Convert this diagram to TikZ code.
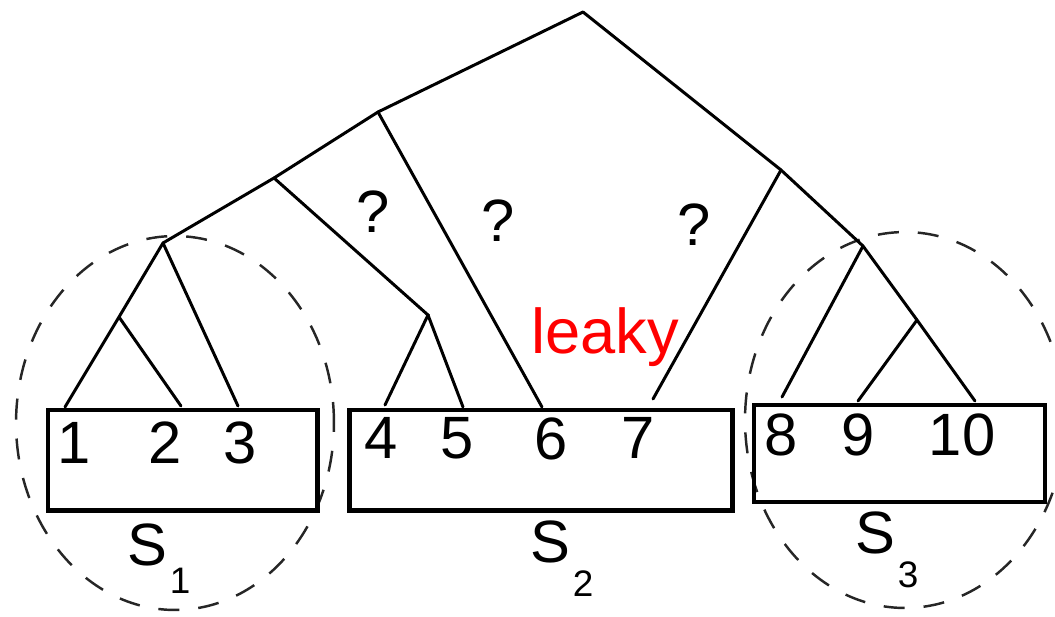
\documentclass[tikz,border=0pt]{standalone}
\usepackage{fontspec}
\setmainfont{Liberation Sans}
\tikzset{
  tree/.style={line width=1.7pt, black, line cap=round},
  setbox/.style={draw, line width=2.6pt, inner sep=0pt},
  setcirc/.style={draw=black!85, line width=1.4pt, dash pattern=on 0.42cm off 0.38cm},
  digit/.style={font=\fontsize{34}{40}\selectfont, inner sep=0pt},
  qmark/.style={font=\fontsize{34}{40}\selectfont, inner sep=0pt},
  slab/.style={font=\fontsize{34}{40}\selectfont, inner sep=0pt, anchor=base west},
  leak/.style={font=\fontsize{36}{42}\selectfont, text=red, inner sep=0pt}
}
\newcommand{\setsub}[2]{S\kern1.5pt\raisebox{-#1}{\fontsize{21}{24}\selectfont #2}}
\begin{document}
\begin{tikzpicture}[x=0.02cm, y=-0.02cm]
\useasboundingbox (0,0) rectangle (1055,616);
% dashed set circles
\draw[setcirc] (175,423) ellipse [x radius=3.18cm, y radius=3.74cm];
\draw[setcirc] (905,420) ellipse [x radius=3.2cm, y radius=3.76cm];
% boxes
\node[setbox, minimum width=5.39cm, minimum height=2.01cm] (b1) at (182.75,460.25) {};
\node[setbox, minimum width=7.66cm, minimum height=2.01cm] (b2) at (541,460.25) {};
\node[setbox, minimum width=5.82cm, minimum height=1.94cm] (b3) at (899.5,453.5) {};
% tree internal nodes
\coordinate (R) at (583,12);
\coordinate (A) at (378,112);
\coordinate (B) at (274,178);
\coordinate (C) at (163,243);
\coordinate (D) at (119,317);
\coordinate (E) at (428,315);
\coordinate (F) at (781,170);
\coordinate (G) at (863,246);
\coordinate (H) at (917,320);
% leaf ends
\coordinate (l1) at (65,407);
\coordinate (l2) at (181,406);
\coordinate (l3) at (238,406);
\coordinate (l4) at (385,405);
\coordinate (l5) at (463,407);
\coordinate (l6) at (542,407);
\coordinate (l7) at (653,399);
\coordinate (l8) at (782,397);
\coordinate (l9) at (858,401);
\coordinate (l10) at (975,401);
% edges
\draw[tree] (R) -- (A) -- (B) -- (C);
\draw[tree] (C) -- (D) -- (l1);
\draw[tree] (D) -- (l2);
\draw[tree] (C) -- (l3);
\draw[tree] (B) -- (E) -- (l4);
\draw[tree] (E) -- (l5);
\draw[tree] (A) -- (l6);
\draw[tree] (R) -- (F) -- (G) -- (H) -- (l10);
\draw[tree] (F) -- (l7);
\draw[tree] (G) -- (l8);
\draw[tree] (H) -- (l9);
% leaf labels
\node[digit] (n1) at (74,443) {1};
\node[digit] (n2) at (165,443) {2};
\node[digit] (n3) at (240,443) {3};
\node[digit] (n4) at (381,438) {4};
\node[digit] (n5) at (457,438) {5};
\node[digit] (n6) at (551,439) {6};
\node[digit] (n7) at (638,438) {7};
\node[digit] (n8) at (781,435) {8};
\node[digit] (n9) at (858,435) {9};
\node[digit] (n10) at (962,435) {10};
% question marks
\node[qmark] (q1) at (373,212) {?};
\node[qmark] (q2) at (498,221) {?};
\node[qmark] (q3) at (694,225) {?};
% leaky
\node[leak] (leaky) at (605,337) {leaky};
% set labels
\node[slab] (s1) at (127,565) {\setsub{16pt}{1}};
\node[slab] (s2) at (530,562) {\setsub{19.5pt}{2}};
\node[slab] (s3) at (855,553) {\setsub{19.5pt}{3}};
\end{tikzpicture}
\end{document}
